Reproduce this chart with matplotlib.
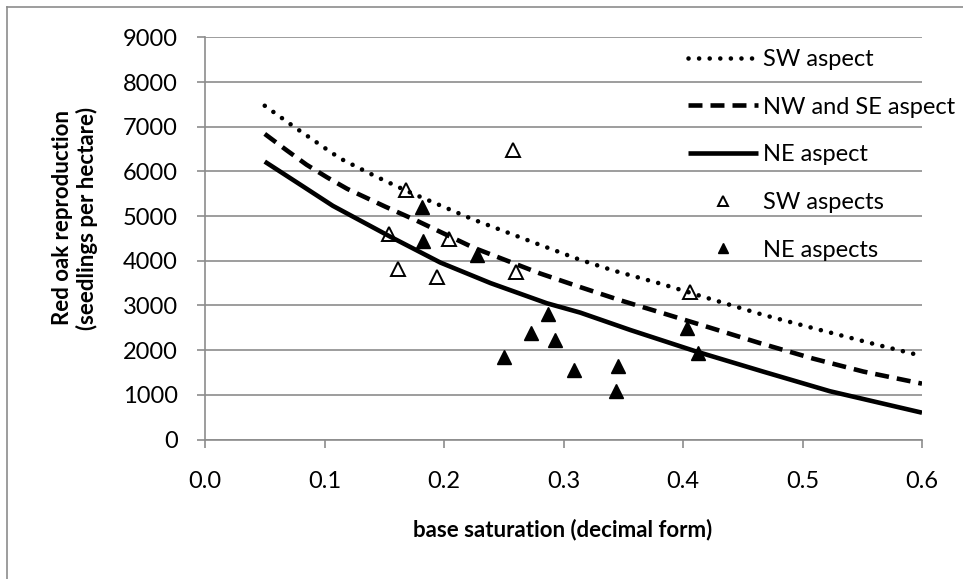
import matplotlib
matplotlib.use("Agg")
import matplotlib.pyplot as plt
from matplotlib.lines import Line2D

# ---- data ----
sw_curve_x = [0.050, 0.075, 0.107, 0.116, 0.142, 0.169, 0.223, 0.278, 0.313, 0.342, 0.381, 0.420, 0.467, 0.515, 0.561, 0.600]
sw_curve_y = [7470, 6990, 6400, 6250, 5900, 5560, 4940, 4380, 4030, 3780, 3490, 3170, 2790, 2450, 2130, 1870]

nwse_curve_x = [0.050, 0.068, 0.085, 0.102, 0.119, 0.151, 0.177, 0.225, 0.280, 0.313, 0.347, 0.384, 0.423, 0.464, 0.509, 0.551, 0.600]
nwse_curve_y = [6840, 6480, 6150, 5870, 5610, 5210, 4900, 4290, 3720, 3420, 3120, 2820, 2500, 2160, 1810, 1520, 1250]

ne_curve_x = [0.050, 0.080, 0.107, 0.155, 0.197, 0.239, 0.286, 0.314, 0.356, 0.411, 0.467, 0.523, 0.600]
ne_curve_y = [6220, 5700, 5230, 4540, 3960, 3500, 3050, 2840, 2450, 1970, 1520, 1080, 600]

sw_pts_x = [0.154, 0.1615, 0.168, 0.194, 0.204, 0.258, 0.260, 0.406]
sw_pts_y = [4600, 3820, 5590, 3640, 4490, 6480, 3750, 3300]

ne_pts_x = [0.1815, 0.1825, 0.2275, 0.250, 0.273, 0.287, 0.293, 0.309, 0.344, 0.3455, 0.403, 0.4125]
ne_pts_y = [5205, 4445, 4130, 1850, 2385, 2810, 2230, 1555, 1085, 1645, 2495, 1935]

x_ticks = [0.0, 0.1, 0.2, 0.3, 0.4, 0.5, 0.6]
y_ticks = [0, 1000, 2000, 3000, 4000, 5000, 6000, 7000, 8000, 9000]

x_label = "base saturation (decimal form)"
y_label = "Red oak reproduction\n(seedlings per hectare)"
legend_labels = ["SW aspect", "NW and SE aspect", "NE aspect", "SW aspects", "NE aspects"]

# ---- figure ----
plt.rcParams['font.family'] = ['Lato', 'DejaVu Sans']
W, H = 963, 579
fig = plt.figure(figsize=(W / 100, H / 100), dpi=100)
ax = fig.add_axes([205 / W, 1 - 439.5 / H, (922 - 205) / W, (439.5 - 37.4) / H])

grid_c = '#8c8c8c'
lw = 3.3

l_sw, = ax.plot(sw_curve_x, sw_curve_y, color='black', lw=lw,
                linestyle=(0, (0.01, 2.3)), dash_capstyle='round', zorder=4)
l_nw, = ax.plot(nwse_curve_x, nwse_curve_y, color='black', lw=lw,
                linestyle=(0, (3.05, 1.75)), dash_capstyle='butt', zorder=4)
l_ne, = ax.plot(ne_curve_x, ne_curve_y, color='black', lw=lw,
                linestyle='-', solid_capstyle='butt', zorder=4)

s_sw, = ax.plot(sw_pts_x, sw_pts_y, linestyle='none', marker='^', ms=10,
                mfc='white', mec='black', mew=1.4, zorder=3)
s_ne, = ax.plot(ne_pts_x, ne_pts_y, linestyle='none', marker='^', ms=10,
                mfc='black', mec='black', mew=1.0, zorder=3)

ax.set_xlim(0, 0.6)
ax.set_ylim(0, 9000)
ax.set_xticks(x_ticks)
ax.set_xticklabels([f"{v:.1f}" for v in x_ticks])
ax.set_yticks(y_ticks)
ax.set_yticklabels([str(v) for v in y_ticks])

ax.yaxis.grid(True, color=grid_c, lw=1.2)
ax.set_axisbelow(True)
for s in ['top', 'right']:
    ax.spines[s].set_visible(False)
for s in ['left', 'bottom']:
    ax.spines[s].set_color(grid_c)
    ax.spines[s].set_linewidth(1.2)

ax.tick_params(axis='both', direction='out', length=5.5, width=1.2, color=grid_c,
               labelsize=17, labelcolor='black')
ax.tick_params(axis='y', pad=14)
ax.tick_params(axis='x', pad=17)

fig.text(563 / W, 1 - 530 / H, x_label, ha='center', va='center',
         fontsize=16, fontweight='bold')
fig.text(75 / W, 1 - 218 / H, y_label, ha='center', va='center',
         fontsize=16, fontweight='bold', rotation=90, linespacing=1.15)

leg = ax.legend([l_sw, l_nw, l_ne, s_sw, s_ne], legend_labels,
                loc='upper left', bbox_to_anchor=((688 - 205) / (922 - 205), 1.0 - (49 - 37.4) / 402),
                frameon=False, fontsize=17, handlelength=2.97, handletextpad=0.21,
                labelspacing=1.13, borderaxespad=0.0, borderpad=0.0, markerscale=0.7)

# outer chart border (left and top visible)
fig.add_artist(Line2D([7 / W, 7 / W], [1 - 7 / H, -0.1], transform=fig.transFigure,
                      color=grid_c, lw=1.2))
fig.add_artist(Line2D([7 / W, 1.1], [1 - 7 / H, 1 - 7 / H], transform=fig.transFigure,
                      color=grid_c, lw=1.2))

fig.savefig("out.png", dpi=100, facecolor='white')
